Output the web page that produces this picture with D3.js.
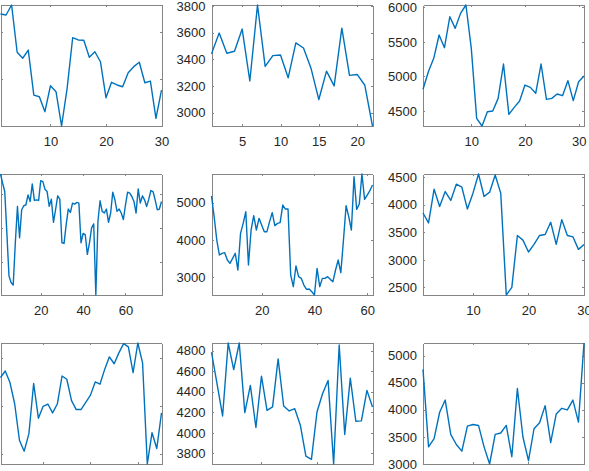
<!DOCTYPE html>
<html>
<head>
<meta charset="utf-8">
<script src="https://cdn.jsdelivr.net/npm/d3@7"></script>
<style>
	body { margin: 0; background: #fff; }
	svg { display: block; }
	text { font-family: "Liberation Sans", Arial, Helvetica, sans-serif; }
</style>
</head>
<body>
<svg id="fig"></svg>
<script>
// series values, one array per subplot (row, column)
var r1c1 = [4696, 4685, 4792, 4286, 4222, 4310, 3828, 3810, 3650, 3928, 3864, 3497, 3900, 4442, 4418,
	4415, 4232, 4292, 4185, 3800, 3965, 3936, 3917, 4067, 4132, 4179, 3960, 3978, 3579, 3882];
var r1c2 = [3441, 3597, 3446, 3461, 3627, 3238, 3807, 3347, 3428, 3433, 3262, 3523, 3485, 3329, 3099,
	3312, 3201, 3634, 3280, 3287, 3206, 2901];
var r1c3 = [4814, 5069, 5262, 5600, 5416, 5865, 5696, 5913, 6034, 5407, 4394, 4283, 4490, 4500, 4683,
	5180, 4452, 4553, 4645, 4876, 4842, 4756, 5180, 4669, 4683, 4746, 4722, 4939, 4650, 4924, 5006];
var r2c1 = [5598, 5323, 5078, 3853, 2579, 2383, 2305, 3559, 4637, 3706, 4539, 4657, 4686, 4980, 4784,
	5304, 4814, 4833, 4814, 5402, 5372, 5147, 5078, 4637, 4853, 4167, 4539, 4951, 4853, 3559,
	3540, 4098, 4559, 4461, 4735, 4706, 4755, 4735, 3559, 3834, 3804, 3216, 3559, 4000, 4118,
	2011, 4196, 4804, 4490, 4441, 4559, 4167, 4441, 5059, 4833, 4490, 4559, 4441, 4245, 4686,
	5059, 5029, 4931, 4784, 4441, 5157, 4735, 4951, 4833, 4637, 4853, 5108, 5078, 4833, 4539,
	4559, 4784];
var r2c2 = [5179, 4625, 4000, 3598, 3643, 3661, 3464, 3375, 3509, 3643, 3196, 4178, 4446, 4759, 3330,
	4268, 4652, 4268, 4580, 4402, 4223, 4223, 4491, 4732, 4384, 4446, 4464, 4937, 4830, 4830,
	3062, 2750, 3303, 3018, 2973, 2794, 2678, 2687, 2616, 2527, 3241, 2750, 2973, 2973, 3018,
	2946, 2884, 3196, 3464, 3125, 4000, 4920, 4625, 4268, 5697, 4821, 4964, 5768, 5089, 5205,
	5321, 5473];
var r2c3 = [3851, 3671, 4284, 3971, 4242, 4080, 4374, 4320, 3923, 4212, 4560, 4152, 4230, 4542, 4212,
	2362, 2500, 3443, 3359, 3143, 3281, 3443, 3461, 3683, 3281, 3731, 3443, 3419, 3191, 3281];
var r3c1 = [4800, 4869, 4748, 4524, 4145, 4031, 4214, 4738, 4376, 4500, 4524, 4431, 4524, 4817, 4783,
	4559, 4466, 4466, 4541, 4617, 4755, 4731, 4886, 5017, 4945, 5059, 5155, 5121, 4852, 5162,
	4955, 3897, 4224, 4059, 4431];
var r3c2 = [4784, 4477, 4164, 4874, 4616, 4874, 4197, 4461, 4052, 4552, 4219, 4252, 4719, 4261, 4213,
	4235, 4074, 3774, 3742, 4203, 4381, 4510, 3697, 4855, 3984, 4532, 4113, 4116, 4413, 4252];
var r3c3 = [4745, 3316, 3468, 3954, 4179, 3547, 3359, 3237, 3699, 3729, 3711, 3316, 3000, 3547, 3571,
	3711, 3134, 4392, 3498, 3061, 3650, 3760, 4076, 3395, 3924, 4027, 3997, 4179, 3772, 5231];

// tick values
var xTicksR1 = [[10, 20, 30], [5, 10, 15, 20], [10, 20, 30]];
var xTicksR2 = [[20, 40, 60], [20, 40, 60], [10, 20, 30]];
var xTicksR3 = [[10, 20, 30], [10, 20, 30], [10, 20, 30]];
var yTicksR1 = [[3500, 4000, 4500], [3000, 3200, 3400, 3600, 3800], [4500, 5000, 5500, 6000]];
var yTicksR2 = [[3000, 4000, 5000], [3000, 4000, 5000], [2500, 3000, 3500, 4000, 4500]];
var yTicksR3 = [[4000, 4500, 5000], [3800, 4000, 4200, 4400, 4600, 4800], [3000, 3500, 4000, 4500, 5000]];

var width = 589, height = 471;
var colLeft = [0.5, 211.5, 423];
var rowTop = [5, 174, 343];
var pw = 161, ph = 121;
var lineColor = '#0072bd';
var axisColor = '#858585';
var textColor = '#262626';

var series = [[r1c1, r1c2, r1c3], [r2c1, r2c2, r2c3], [r3c1, r3c2, r3c3]];
var xTicks = [xTicksR1, xTicksR2, xTicksR3];
var yTicks = [yTicksR1, yTicksR2, yTicksR3];

var svg = d3.select('#fig').attr('width', width).attr('height', height);
var fmt = d3.format('d');

function styleAxis(g, labels) {
	g.select('.domain').attr('stroke', axisColor).attr('shape-rendering', 'crispEdges');
	g.selectAll('.tick line').attr('stroke', axisColor).attr('shape-rendering', 'crispEdges');
	g.selectAll('.tick text').attr('fill', textColor).style('font-size', '13px');
	if (!labels) g.selectAll('.tick text').remove();
}

for (let r = 0; r < 3; r++) {
	for (let c = 0; c < 3; c++) {
		let vals = series[r][c];
		let left = colLeft[c], top = rowTop[r];

		let x = d3.scaleLinear().domain([1, vals.length]).range([left, left + pw]);
		let y = d3.scaleLinear().domain(d3.extent(vals)).range([top + ph, top]);

		let panel = svg.append('g').attr('class', 'panel');

		// bottom / top (bottom row labels fall below the picture, left column labels off its left edge)
		panel.append('g').attr('transform', 'translate(0,' + (top + ph) + ')')
			.call(d3.axisBottom(x).tickValues(xTicks[r][c]).tickFormat(fmt).tickSizeInner(-2).tickSizeOuter(0).tickPadding(11))
			.call(g => styleAxis(g, r < 2));
		panel.append('g').attr('transform', 'translate(0,' + top + ')')
			.call(d3.axisTop(x).tickValues(xTicks[r][c]).tickSizeInner(-2).tickSizeOuter(0))
			.call(g => styleAxis(g, false));
		// left / right
		panel.append('g').attr('transform', 'translate(' + left + ',0)')
			.call(d3.axisLeft(y).tickValues(yTicks[r][c]).tickFormat(fmt).tickSizeInner(-2).tickSizeOuter(0).tickPadding(6))
			.call(g => styleAxis(g, c > 0));
		panel.append('g').attr('transform', 'translate(' + (left + pw) + ',0)')
			.call(d3.axisRight(y).tickValues(yTicks[r][c]).tickSizeInner(-2).tickSizeOuter(0))
			.call(g => styleAxis(g, false));

		panel.append('path')
			.datum(vals)
			.attr('fill', 'none')
			.attr('stroke', lineColor)
			.attr('stroke-width', 1.4)
			.attr('stroke-linejoin', 'round')
			.attr('d', d3.line().x((d, i) => x(i + 1)).y(d => y(d)));
	}
}
</script>
</body>
</html>
